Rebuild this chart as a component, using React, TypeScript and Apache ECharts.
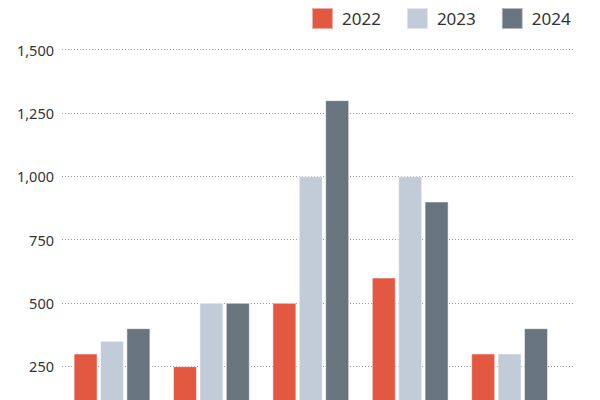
import React, { useEffect, useRef } from "react";
import * as echarts from "echarts";

const categories = ["A", "B", "C", "D", "E"];
const seriesNames = ["2022", "2023", "2024"];
const values2022 = [300, 250, 500, 600, 300];
const values2023 = [350, 500, 1000, 1000, 300];
const values2024 = [400, 500, 1300, 900, 400];
const colors = ["#E35840", "#C1CCD8", "#68757E"];

const FONT = "Noto Sans";

export default function App() {
  const ref = useRef<HTMLDivElement>(null);
  useEffect(() => {
    if (!ref.current) return;
    const chart = echarts.init(ref.current, undefined, { renderer: "svg" });
    const yCommon = { type: "value" as const, min: 0, max: 1500, interval: 250 };
    const data = [values2022, values2023, values2024];
    chart.setOption({
      animation: false,
      backgroundColor: "#ffffff",
      legend: {
        data: seriesNames,
        left: 311,
        top: 7,
        padding: 0,
        itemWidth: 21,
        itemHeight: 21,
        itemGap: 25,
        icon: "rect",
        textStyle: { fontFamily: FONT, fontSize: 17, color: "#333333", padding: [0, 0, 0, 4] },
      },
      grid: [
        { left: 62, right: 27, top: 49.5, height: 380 },
        { left: 62.3, width: 497, top: 49.5, height: 380 },
      ],
      xAxis: [
        { type: "value", gridIndex: 0, show: false, min: 0, max: 1 },
        {
          type: "category",
          gridIndex: 1,
          data: categories,
          axisLine: { show: false },
          axisTick: { show: false },
          axisLabel: { show: false },
        },
      ],
      yAxis: [
        {
          ...yCommon,
          gridIndex: 0,
          axisLine: { show: false },
          axisTick: { show: false },
          axisLabel: {
            margin: 8,
            showMinLabel: false,
            fontFamily: FONT,
            fontSize: 14.5,
            color: "#333333",
            formatter: (v: number) => v.toLocaleString("en-US"),
          },
          splitLine: { lineStyle: { color: "#9a9a9a", width: 1, type: [1, 2] } },
        },
        { ...yCommon, gridIndex: 1, show: false, splitLine: { show: false } },
      ],
      series: seriesNames.map((name, i) => ({
        name,
        type: "bar",
        xAxisIndex: 1,
        yAxisIndex: 1,
        data: data[i],
        barWidth: 24,
        barGap: "10%",
        itemStyle: { color: colors[i], borderColor: "rgba(255,255,255,0.5)", borderWidth: 1 },
      })),
      color: colors,
    });
    return () => chart.dispose();
  }, []);
  return (
    <div
      style={{
        position: "absolute",
        left: 0,
        top: 0,
        width: 600,
        height: 400,
        overflow: "hidden",
      }}
    >
      <div ref={ref} style={{ width: 600, height: 460 }} />
    </div>
  );
}
